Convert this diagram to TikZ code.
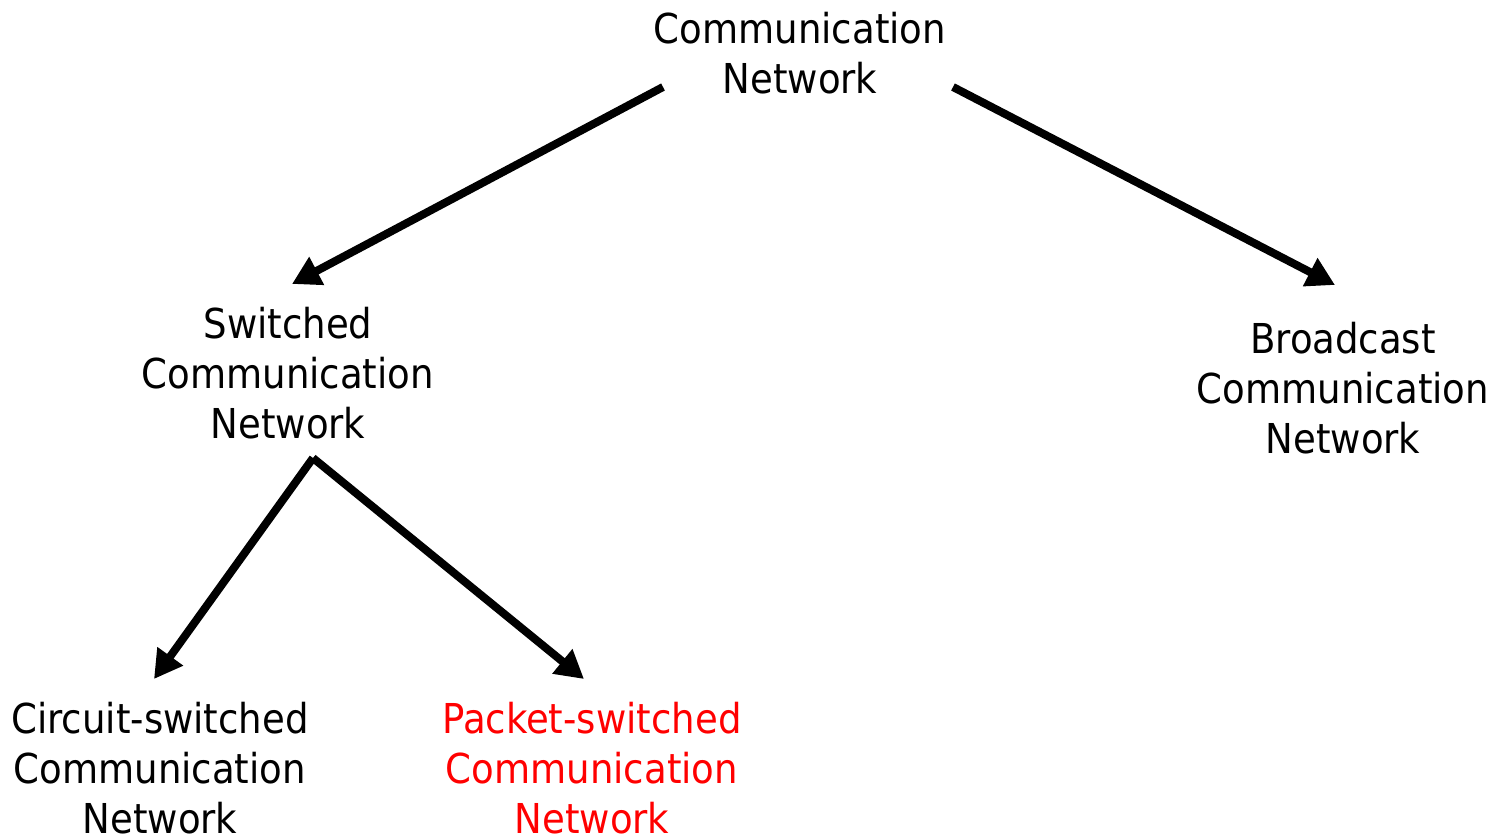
\documentclass[tikz,border=0pt]{standalone}
\usepackage{fontspec}
\setmainfont{DejaVu Sans Condensed}
\usepackage{xcolor}
\usetikzlibrary{arrows.meta}

\begin{document}
\begin{tikzpicture}[x=0.5pt,y=-0.5pt,
  netnode/.style={align=center,inner sep=0pt,font=\fontsize{20.6}{25}\selectfont},
  arr/.style={line width=4pt,-{Triangle[length=14pt,width=15pt]}}]
\useasboundingbox (0,0) rectangle (1494,836);

% nodes
\node[netnode] (comm) at (800,53) {Communication\\Network};
\node[netnode] (sw) at (288,373) {Switched\\Communication\\Network};
\node[netnode] (bc) at (1343,388) {Broadcast\\Communication\\Network};
\node[netnode] (cs) at (160,768) {Circuit-switched\\Communication\\Network};
\node[netnode,text=red] (ps) at (592,768) {Packet-switched\\Communication\\Network};

% top arrows
\draw [arr] ([shift={(-137,34)}]comm.center) -- ([shift={(4,-89)}]sw.center);
\draw [arr] ([shift={(153,34)}]comm.center) -- ([shift={(-8,-103)}]bc.center);

% lower arrows
\draw [arr] ([shift={(25,85)}]sw.center) -- ([shift={(-6,-89)}]cs.center);
\draw [arr] ([shift={(25,85)}]sw.center) -- ([shift={(-8,-89)}]ps.center);
\end{tikzpicture}
\end{document}
